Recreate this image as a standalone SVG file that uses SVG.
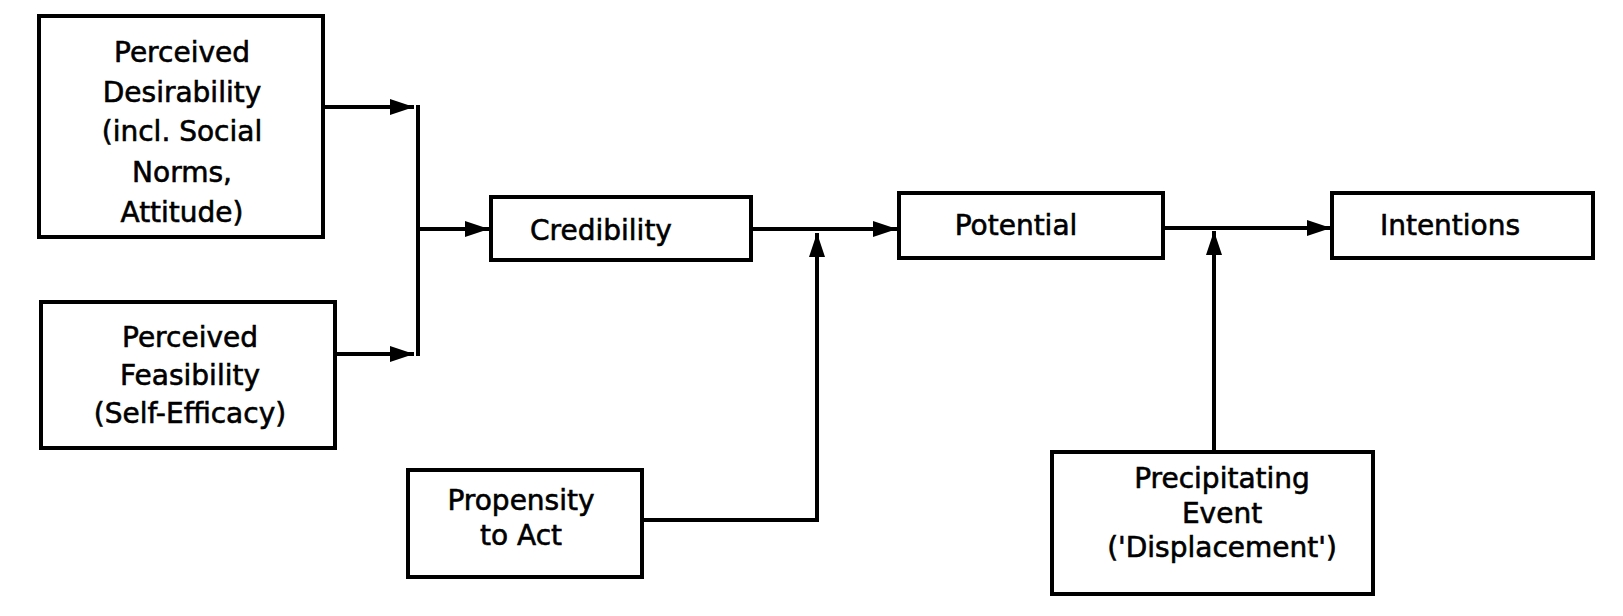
<svg xmlns="http://www.w3.org/2000/svg" width="1623" height="616" viewBox="0 0 1623 616">
<style>
.box{fill:#fff;stroke:#000;stroke-width:4}
.lbl{font-family:"DejaVu Sans",sans-serif;font-size:28px;fill:#000;stroke:#000;stroke-width:0.6;text-anchor:middle}
.con{fill:none;stroke:#000;stroke-width:4}
</style>
<defs>
<marker id="ah" markerUnits="userSpaceOnUse" markerWidth="26" markerHeight="18" refX="24" refY="8" orient="auto">
<path d="M0,0 L24,8 L0,16 z" fill="#000"/>
</marker>
</defs>
<rect width="1623" height="616" fill="#fff"/>
<g id="connectors">
<path class="con" d="M323,107 H414" marker-end="url(#ah)"/>
<path class="con" d="M335,354 H414" marker-end="url(#ah)"/>
<path class="con" d="M418,105 V356"/>
<path class="con" d="M418,229 H489" marker-end="url(#ah)"/>
<path class="con" d="M751,229 H897" marker-end="url(#ah)"/>
<path class="con" d="M642,520 H817 V233" marker-end="url(#ah)"/>
<path class="con" d="M1163,228 H1331" marker-end="url(#ah)"/>
<path class="con" d="M1214,452 V231" marker-end="url(#ah)"/>
</g>
<g id="desirability">
<rect class="box" x="39" y="16" width="284" height="221"/>
<text class="lbl" x="182" y="62">Perceived</text>
<text class="lbl" x="182" y="102">Desirability</text>
<text class="lbl" x="182" y="141">(incl. Social</text>
<text class="lbl" x="182" y="182">Norms,</text>
<text class="lbl" x="182" y="222">Attitude)</text>
</g>
<g id="feasibility">
<rect class="box" x="41" y="302" width="294" height="146"/>
<text class="lbl" x="190" y="347">Perceived</text>
<text class="lbl" x="190" y="385">Feasibility</text>
<text class="lbl" x="190" y="423">(Self-Efficacy)</text>
</g>
<g id="credibility">
<rect class="box" x="491" y="197" width="260" height="63"/>
<text class="lbl" x="601" y="240">Credibility</text>
</g>
<g id="potential">
<rect class="box" x="899" y="193" width="264" height="65"/>
<text class="lbl" x="1016" y="235">Potential</text>
</g>
<g id="intentions">
<rect class="box" x="1332" y="193" width="261" height="65"/>
<text class="lbl" x="1450" y="235">Intentions</text>
</g>
<g id="propensity">
<rect class="box" x="408" y="470" width="234" height="107"/>
<text class="lbl" x="521" y="510">Propensity</text>
<text class="lbl" x="521" y="545">to Act</text>
</g>
<g id="precipitating">
<rect class="box" x="1052" y="452" width="321" height="142"/>
<text class="lbl" x="1222" y="488">Precipitating</text>
<text class="lbl" x="1222" y="523">Event</text>
<text class="lbl" x="1222" y="557">('Displacement')</text>
</g>
</svg>
